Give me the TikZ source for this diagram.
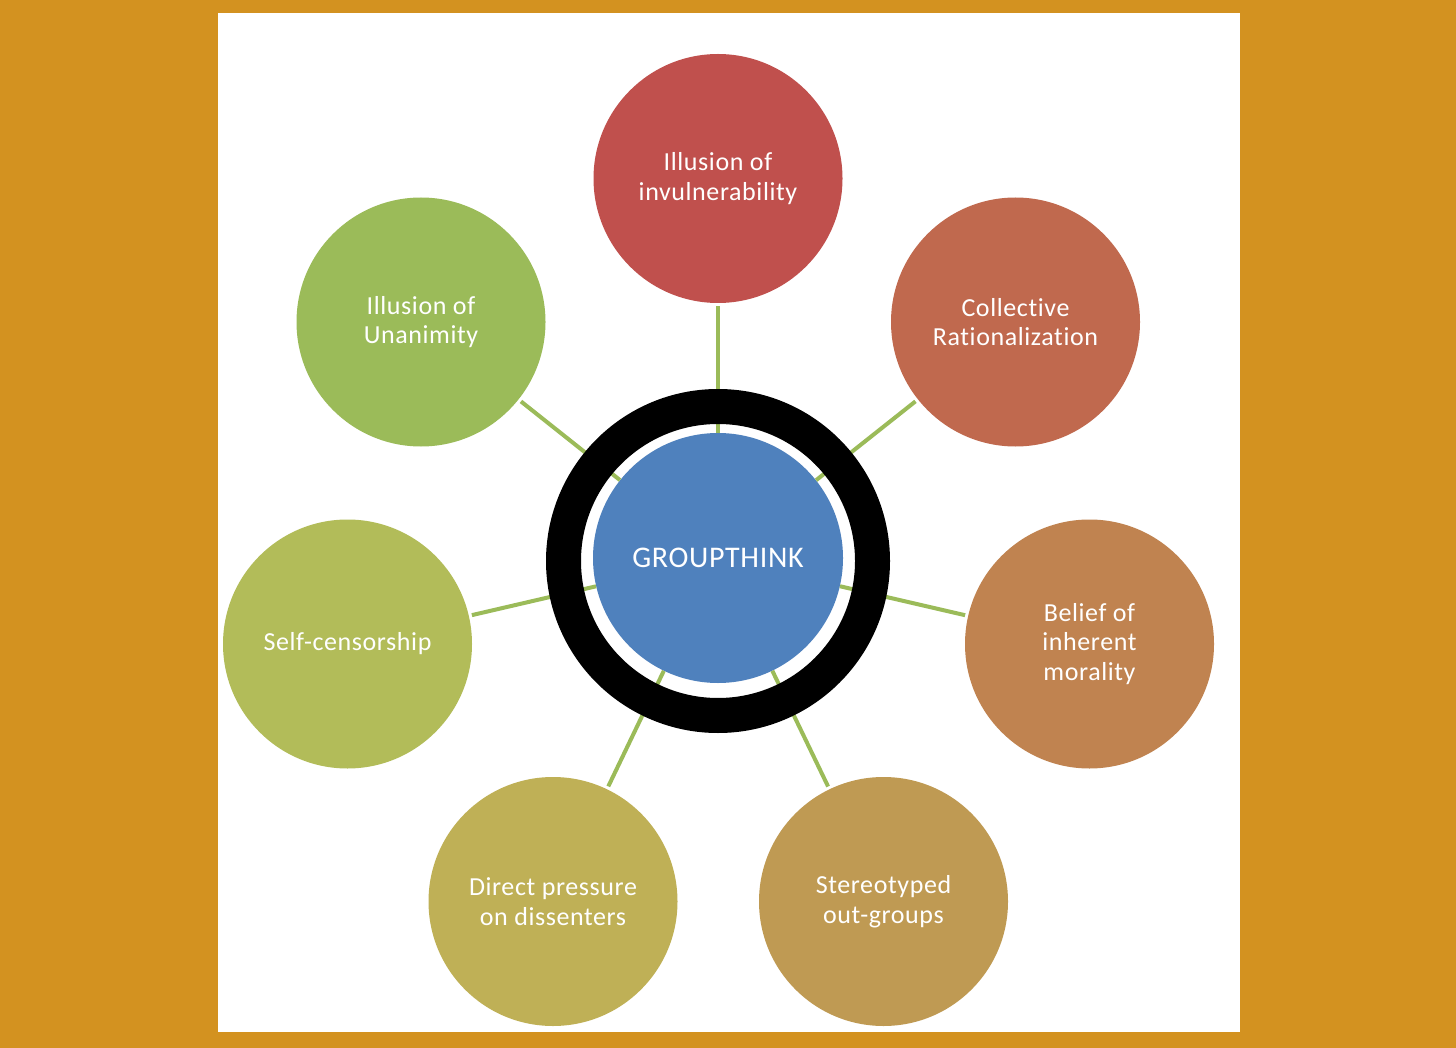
\documentclass[tikz,border=0pt]{standalone}
\usepackage{fontspec}
\setmainfont[Ligatures=NoCommon,LetterSpace=2.3]{Carlito}
\definecolor{bgorange}{RGB}{211,146,32}
\definecolor{cblue}{RGB}{79,129,189}
\definecolor{cgreen}{RGB}{155,187,89}
\definecolor{cA}{RGB}{192,80,77}
\definecolor{cB}{RGB}{192,105,78}
\definecolor{cC}{RGB}{192,131,80}
\definecolor{cD}{RGB}{191,154,83}
\definecolor{cE}{RGB}{191,176,86}
\definecolor{cF}{RGB}{178,188,89}
\definecolor{cG}{RGB}{155,187,89}
\begin{document}
\begin{tikzpicture}[x=1pt,y=-1pt,
  bubble/.style={circle,inner sep=0pt,minimum size=249pt,text=white,align=center,
    font=\fontsize{26}{29.5}\selectfont},
  link/.style={draw=cgreen,line width=4pt,shorten >=3pt}]
\useasboundingbox (0,0) rectangle (1456,1048);
\fill[bgorange] (0,0) rectangle (1456,1048);
\fill[white] (218,13) rectangle (1240,1032);
\node[bubble,fill=cblue,minimum size=250pt,font=\fontsize{30}{34}\selectfont] (c) at (718,558) {GROUPTHINK};
\node[bubble,fill=cA] (a) at (718,178.5) {Illusion of\\invulnerability};
\node[bubble,fill=cB] (b) at (1015.5,322) {Collective\\Rationalization};
\node[bubble,fill=cC] (d) at (1089.5,644) {Belief of\\inherent\\morality};
\node[bubble,fill=cD] (e) at (883.5,901.5) {Stereotyped\\out-groups};
\node[bubble,fill=cE] (f) at (553,901.5) {Direct pressure\\on dissenters};
\node[bubble,fill=cF] (g) at (347.5,644) {Self-censorship};
\node[bubble,fill=cG] (h) at (421,322) {Illusion of\\Unanimity};
\foreach \n in {a,b,d,e,f,g,h} \draw[link] (c) -- (\n);
\draw[line width=35pt] (718,561) circle (154.5);
\end{tikzpicture}
\end{document}
